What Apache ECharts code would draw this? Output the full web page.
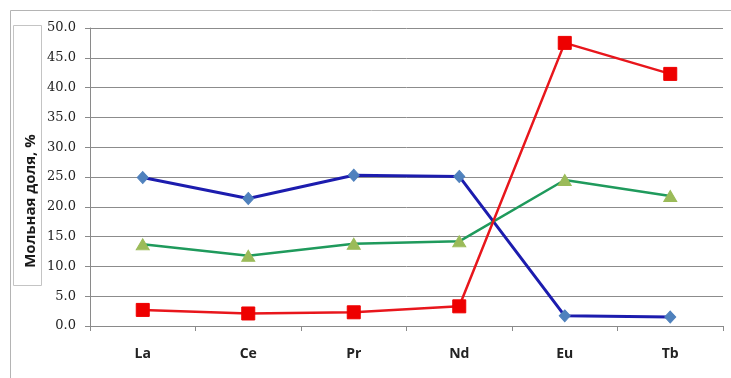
<!DOCTYPE html>
<html>
<head>
<meta charset="utf-8">
<script src="https://cdn.jsdelivr.net/npm/echarts@6/dist/echarts.min.js"></script>
<style>
  html, body { margin: 0; padding: 0; background: #fff; }
  #chart { width: 731px; height: 378px; }
</style>
</head>
<body>
<div id="chart"></div>
<script>
// Rare-earth elements on the category axis
const elements = ['La', 'Ce', 'Pr', 'Nd', 'Eu', 'Tb'];

// Mole fraction values, %
const seriesBlue = [24.9, 21.4, 25.3, 25.1, 1.7, 1.5];
const seriesGreen = [13.7, 11.8, 13.8, 14.2, 24.5, 21.8];
const seriesRed = [2.7, 2.1, 2.3, 3.3, 47.5, 42.3];

const yTicks = { min: 0, max: 50, interval: 5 };
const yTitle = 'Мольная доля, %';

const chart = echarts.init(document.getElementById('chart'), null, { renderer: 'canvas' });

chart.setOption({
  animation: false,
  backgroundColor: '#fff',
  grid: { left: 90, right: 8, top: 28, bottom: 52 },
  graphic: [
    {
      type: 'rect', z: -1,
      shape: { x: 10.5, y: 10.5, width: 740, height: 400 },
      style: { fill: 'none', stroke: '#b4b4b4', lineWidth: 1 }
    },
    {
      type: 'rect',
      shape: { x: 13.5, y: 25.5, width: 28, height: 260 },
      style: { fill: '#fff', stroke: '#c4c4c4', lineWidth: 1 }
    },
    {
      type: 'text',
      x: 31, y: 201,
      rotation: Math.PI / 2,
      style: {
        text: yTitle,
        fontFamily: 'Open Sans, Liberation Sans, sans-serif',
        fontWeight: 'bold',
        fontSize: 15,
        fill: '#1a1a1a',
        textAlign: 'center',
        textVerticalAlign: 'middle'
      }
    }
  ],
  xAxis: {
    type: 'category',
    data: elements,
    boundaryGap: true,
    axisLine: { lineStyle: { color: '#8a8a8a', width: 1 } },
    axisTick: { show: true, interval: 0, length: 5, lineStyle: { color: '#8a8a8a' } },
    axisLabel: {
      margin: 21,
      fontFamily: 'Open Sans, Liberation Sans, sans-serif',
      fontWeight: 'bold',
      fontSize: 14,
      color: '#222'
    },
    splitLine: { show: false }
  },
  yAxis: {
    type: 'value',
    min: yTicks.min,
    max: yTicks.max,
    interval: yTicks.interval,
    axisLine: { show: true, lineStyle: { color: '#8a8a8a', width: 1 } },
    axisTick: { show: true, length: 5, lineStyle: { color: '#8a8a8a' } },
    axisLabel: {
      margin: 14,
      formatter: v => v.toFixed(1),
      fontFamily: 'DejaVu Serif, Liberation Serif, serif',
      fontSize: 13,
      color: '#222'
    },
    splitLine: { show: true, lineStyle: { color: '#8c8c8c', width: 1 } }
  },
  series: [
    {
      type: 'line',
      data: seriesBlue,
      symbol: 'diamond',
      symbolSize: [11, 12],
      lineStyle: { color: '#1c1cae', width: 3 },
      itemStyle: { color: '#4f81bd', borderColor: '#4f81bd' },
      z: 3
    },
    {
      type: 'line',
      data: seriesGreen,
      symbol: 'triangle',
      symbolSize: [13, 11],
      lineStyle: { color: '#1f9a5c', width: 2.5 },
      itemStyle: { color: '#9bbb59', borderColor: '#9bbb59' },
      z: 4
    },
    {
      type: 'line',
      data: seriesRed,
      symbol: 'rect',
      symbolSize: 13,
      lineStyle: { color: '#e8161c', width: 2.5 },
      itemStyle: { color: '#ee0000', borderColor: '#ee0000' },
      z: 5
    }
  ]
});
</script>
</body>
</html>
